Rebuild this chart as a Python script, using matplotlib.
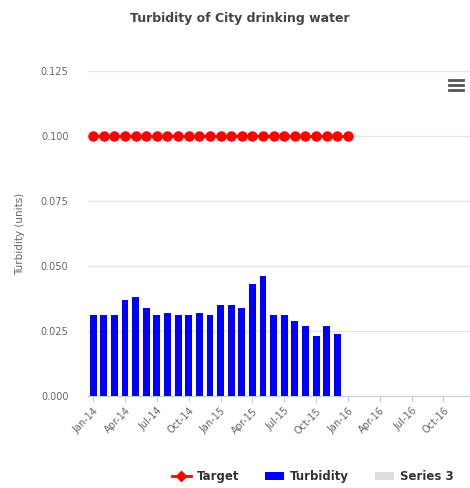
import numpy as np
import matplotlib
matplotlib.use('Agg')
import matplotlib.pyplot as plt
from matplotlib.lines import Line2D
from matplotlib.patches import Patch

# ── Data ─────────────────────────────────────────────────────────────────────
# monthly turbidity readings, Jan-14 .. Dec-15
turbidity = [0.031, 0.031, 0.031, 0.037, 0.038, 0.034, 0.031, 0.032,
             0.031, 0.031, 0.032, 0.031, 0.035, 0.035, 0.034, 0.043,
             0.046, 0.031, 0.031, 0.029, 0.027, 0.023, 0.027, 0.024]
# target level, Jan-14 .. Jan-16
target = [0.1] * 25
tick_labels = ['Jan-14', 'Apr-14', 'Jul-14', 'Oct-14', 'Jan-15', 'Apr-15',
               'Jul-15', 'Oct-15', 'Jan-16', 'Apr-16', 'Jul-16', 'Oct-16']
y_ticks = [0.0, 0.025, 0.05, 0.075, 0.1, 0.125]

GRID = '#e6e6e6'
LABEL = '#666666'

fig = plt.figure(figsize=(4.7, 4.88), dpi=100)
ax = fig.add_axes([0.187, 0.1885, 0.813, 0.666])

months_t = np.arange(len(turbidity))
months_g = np.arange(len(target))

ax.bar(months_t, turbidity, width=0.65, color='#0000ff', zorder=3)
ax.plot(months_g, target, color='#ff0000', lw=2, marker='o', ms=6.5,
        zorder=4, clip_on=False)

ax.set_xlim(-0.5, 35.5)
ax.set_ylim(0, 0.125)
ax.set_yticks(y_ticks)
ax.set_yticklabels([f'{v:.3f}' for v in y_ticks], fontsize=7, color=LABEL)
ax.set_xticks(np.arange(0, 36, 3))
ax.set_xticklabels(tick_labels, rotation=45, ha='right', rotation_mode='anchor',
                   fontsize=7, color=LABEL)
ax.tick_params(axis='y', length=0, pad=14)
ax.tick_params(axis='x', length=4, color='#c0d0e0', pad=3)

ax.grid(axis='y', color=GRID, lw=1, zorder=0)
for s in ['top', 'right', 'left']:
    ax.spines[s].set_visible(False)
ax.spines['bottom'].set_color('#c0d0e0')

ax.set_ylabel('Turbidity (units)', fontsize=7.5, color=LABEL, labelpad=11)

fig.text(0.51, 0.962, 'Turbidity of City drinking water', ha='center',
         va='center', fontsize=9, fontweight='bold', color='#444444')

# menu icon
for yy in [0.836, 0.826, 0.816]:
    fig.add_artist(Line2D([0.955, 0.985], [yy, yy], color='#555555', lw=2,
                          transform=fig.transFigure))

legend_elems = [
    Line2D([0], [0], color='#ff0000', lw=2, marker='D', ms=5, label='Target'),
    Patch(facecolor='#0000ff', label='Turbidity'),
    Patch(facecolor='#dddddd', label='Series 3'),
]
leg = fig.legend(handles=legend_elems, loc='center', bbox_to_anchor=(0.665, 0.023),
                 ncol=3, frameon=False, fontsize=8.5, handlelength=1.6,
                 columnspacing=2.2, handletextpad=0.5)
for t in leg.get_texts():
    t.set_fontweight('bold')
    t.set_color('#333333')

fig.savefig('out.png', dpi=100)
